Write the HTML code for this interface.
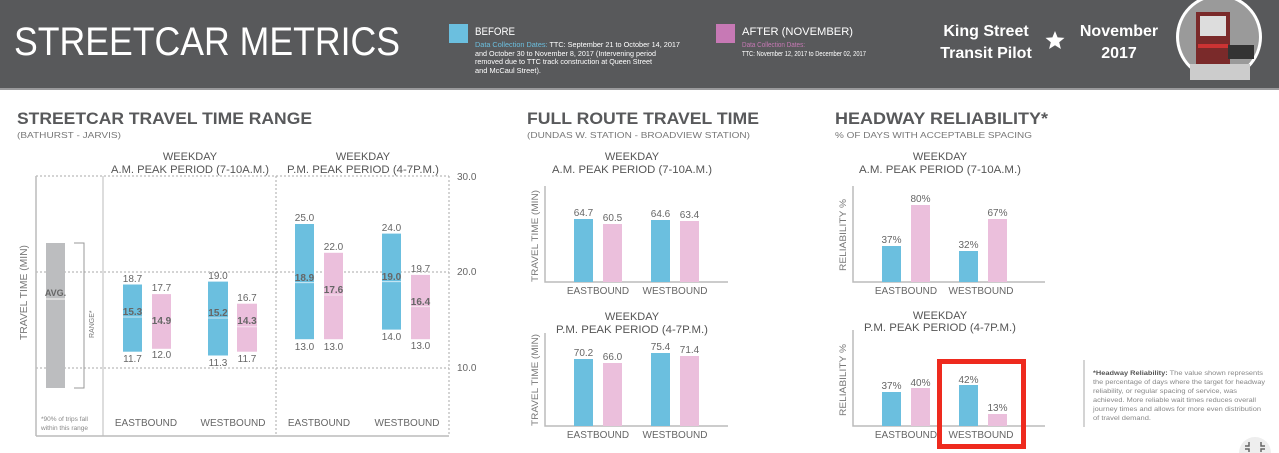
<!DOCTYPE html>
<html><head><meta charset="utf-8"><style>
html,body{margin:0;padding:0;background:#fff;}
svg{display:block;font-family:"Liberation Sans",sans-serif;}
</style></head><body>
<svg width="1279" height="453" viewBox="0 0 1279 453" xmlns="http://www.w3.org/2000/svg">
<defs><clipPath id="hc"><rect x="0" y="0" width="1279" height="88"/></clipPath></defs>
<!-- header -->
<rect x="0" y="0" width="1279" height="88" fill="#58595b"/>
<rect x="0" y="88" width="1279" height="2" fill="#9a9a9c"/>
<text x="14" y="55" fill="#fff" font-size="40" textLength="386" lengthAdjust="spacingAndGlyphs">STREETCAR METRICS</text>
<rect x="449" y="24" width="19" height="19" fill="#6bbfdf"/>
<text x="475" y="35" fill="#fff" font-size="11" textLength="40" lengthAdjust="spacingAndGlyphs">BEFORE</text>
<g font-size="7" fill="#fff">
<text x="475" y="47" textLength="205" lengthAdjust="spacingAndGlyphs"><tspan fill="#6bbfdf">Data Collection Dates:</tspan> TTC: September 21 to October 14, 2017</text>
<text x="475" y="56" textLength="181" lengthAdjust="spacingAndGlyphs">and October 30 to November 8, 2017 (Intervening period</text>
<text x="475" y="64" textLength="177" lengthAdjust="spacingAndGlyphs">removed due to TTC track construction at Queen Street</text>
<text x="475" y="73" textLength="66" lengthAdjust="spacingAndGlyphs">and McCaul Street).</text>
</g>
<rect x="716" y="24" width="19" height="19" fill="#c779b5"/>
<text x="742" y="35" fill="#fff" font-size="11" textLength="111" lengthAdjust="spacingAndGlyphs">AFTER (NOVEMBER)</text>
<text x="742" y="47" fill="#c779b5" font-size="7" textLength="63" lengthAdjust="spacingAndGlyphs">Data Collection Dates:</text>
<text x="742" y="56" fill="#fff" font-size="7" textLength="124" lengthAdjust="spacingAndGlyphs">TTC: November 12, 2017 to December 02, 2017</text>
<g fill="#fff" font-size="16" font-weight="bold" text-anchor="middle">
<text x="986" y="36">King Street</text>
<text x="986" y="58">Transit Pilot</text>
<text x="1119" y="36">November</text>
<text x="1119" y="58">2017</text>
</g>
<polygon points="1055,31 1057.6,37.4 1064.5,37.9 1059.2,42.3 1060.9,49 1055,45.3 1049.1,49 1050.8,42.3 1045.5,37.9 1052.4,37.4" fill="#fff"/>
<g clip-path="url(#hc)">
<circle cx="1219" cy="37" r="43" fill="#fff"/>
<circle cx="1219" cy="37" r="40" fill="#9a9a9a"/>
<rect x="1196" y="12" width="34" height="52" fill="#7a2a2a"/>
<rect x="1200" y="16" width="26" height="20" fill="#ddd"/>
<rect x="1198" y="44" width="30" height="4" fill="#c33"/>
<rect x="1228" y="45" width="26" height="14" fill="#333"/>
<rect x="1190" y="64" width="60" height="16" fill="#ccc"/>
</g>

<!-- left section -->
<text x="17" y="124" fill="#58595b" font-size="17" font-weight="bold" textLength="295" lengthAdjust="spacingAndGlyphs">STREETCAR TRAVEL TIME RANGE</text>
<text x="17" y="138" fill="#777" font-size="8" textLength="104" lengthAdjust="spacingAndGlyphs">(BATHURST - JARVIS)</text>
<g fill="#555" font-size="11" text-anchor="middle">
<text x="190" y="160">WEEKDAY</text>
<text x="190" y="173" textLength="158" lengthAdjust="spacingAndGlyphs">A.M. PEAK PERIOD (7-10A.M.)</text>
<text x="363" y="160">WEEKDAY</text>
<text x="363" y="173" textLength="152" lengthAdjust="spacingAndGlyphs">P.M. PEAK PERIOD (4-7P.M.)</text>
</g>
<g stroke="#aaa" stroke-width="1" stroke-dasharray="2,2">
<line x1="36" y1="176" x2="449" y2="176"/>
<line x1="36" y1="272" x2="449" y2="272"/>
<line x1="36" y1="368" x2="449" y2="368"/>
<line x1="276" y1="176" x2="276" y2="436"/>
<line x1="449" y1="176" x2="449" y2="436"/>
</g>
<line x1="36" y1="176" x2="36" y2="436" stroke="#bbb" stroke-width="1.5"/>
<line x1="36" y1="436" x2="449" y2="436" stroke="#bbb" stroke-width="1.5"/>
<line x1="103" y1="176" x2="103" y2="436" stroke="#bbb" stroke-width="1"/>
<g fill="#666" font-size="10">
<text x="457" y="180">30.0</text><text x="457" y="275">20.0</text><text x="457" y="371">10.0</text>
</g>
<text transform="translate(27,340) rotate(-90)" fill="#777" font-size="10" textLength="95" lengthAdjust="spacingAndGlyphs">TRAVEL TIME (MIN)</text>
<rect x="46" y="243" width="19" height="145" fill="#bcbdbf"/>
<line x1="46" y1="299" x2="65" y2="299" stroke="#e6e6e6" stroke-width="1.5"/>
<text x="55.5" y="296" fill="#666" font-size="9" font-weight="bold" text-anchor="middle">AVG.</text>
<path d="M74,243 H84 V388 H74" fill="none" stroke="#999" stroke-width="1"/>
<text transform="translate(94,338) rotate(-90)" fill="#777" font-size="7">RANGE*</text>
<text x="41" y="421" fill="#888" font-size="6.5">*90% of trips fall</text>
<text x="41" y="430" fill="#888" font-size="6.5">within this range</text>

<g font-size="10" fill="#666" text-anchor="middle">
<rect x="123" y="284.5" width="19" height="67.2" fill="#6bbfdf"/><line x1="123" x2="142" y1="317" y2="317" stroke="#cfe9f4"/>
<text x="132.5" y="282">18.7</text><text x="132.5" y="362">11.7</text><text x="132.5" y="315" font-weight="bold">15.3</text>
<rect x="152" y="294.1" width="19" height="54.7" fill="#ebbfdc"/><line x1="152" x2="171" y1="321" y2="321" stroke="#f7e4f0"/>
<text x="161.5" y="291">17.7</text><text x="161.5" y="358">12.0</text><text x="161.5" y="324" font-weight="bold">14.9</text>
<rect x="208" y="281.6" width="20" height="73.9" fill="#6bbfdf"/><line x1="208" x2="228" y1="318" y2="318" stroke="#cfe9f4"/>
<text x="218" y="279">19.0</text><text x="218" y="366">11.3</text><text x="218" y="316" font-weight="bold">15.2</text>
<rect x="237" y="303.7" width="20" height="48" fill="#ebbfdc"/><line x1="237" x2="257" y1="326.7" y2="326.7" stroke="#f7e4f0"/>
<text x="247" y="301">16.7</text><text x="247" y="362">11.7</text><text x="247" y="324" font-weight="bold">14.3</text>
<rect x="295" y="224" width="19" height="115.2" fill="#6bbfdf"/><line x1="295" x2="314" y1="282.6" y2="282.6" stroke="#cfe9f4"/>
<text x="304.5" y="221">25.0</text><text x="304.5" y="350">13.0</text><text x="304.5" y="281" font-weight="bold">18.9</text>
<rect x="324" y="252.8" width="19" height="86.4" fill="#ebbfdc"/><line x1="324" x2="343" y1="295" y2="295" stroke="#f7e4f0"/>
<text x="333.5" y="250">22.0</text><text x="333.5" y="350">13.0</text><text x="333.5" y="293" font-weight="bold">17.6</text>
<rect x="382" y="233.6" width="19" height="96" fill="#6bbfdf"/><line x1="382" x2="401" y1="281.6" y2="281.6" stroke="#cfe9f4"/>
<text x="391.5" y="231">24.0</text><text x="391.5" y="340">14.0</text><text x="391.5" y="280" font-weight="bold">19.0</text>
<rect x="411" y="274.9" width="19" height="64.3" fill="#ebbfdc"/><line x1="411" x2="430" y1="306.6" y2="306.6" stroke="#f7e4f0"/>
<text x="420.5" y="272">19.7</text><text x="420.5" y="349">13.0</text><text x="420.5" y="305" font-weight="bold">16.4</text>
</g>
<g font-size="10" fill="#666" text-anchor="middle">
<text x="146" y="426">EASTBOUND</text><text x="233" y="426">WESTBOUND</text>
<text x="319" y="426">EASTBOUND</text><text x="407" y="426">WESTBOUND</text>
</g>

<!-- middle section -->
<text x="527" y="124" fill="#58595b" font-size="17" font-weight="bold" textLength="232" lengthAdjust="spacingAndGlyphs">FULL ROUTE TRAVEL TIME</text>
<text x="527" y="138" fill="#777" font-size="8" textLength="223" lengthAdjust="spacingAndGlyphs">(DUNDAS W. STATION - BROADVIEW STATION)</text>
<g fill="#555" font-size="11" text-anchor="middle">
<text x="632" y="160">WEEKDAY</text>
<text x="632" y="173" textLength="160" lengthAdjust="spacingAndGlyphs">A.M. PEAK PERIOD (7-10A.M.)</text>
<text x="632" y="320">WEEKDAY</text>
<text x="632" y="333" textLength="152" lengthAdjust="spacingAndGlyphs">P.M. PEAK PERIOD (4-7P.M.)</text>
</g>
<g stroke="#bbb" stroke-width="1.5" fill="none">
<path d="M545,186 V282 H728"/><path d="M545,333 V426 H728"/>
<path d="M853,186 V282 H1045"/><path d="M853,330 V426 H1045"/>
</g>
<text transform="translate(538,282) rotate(-90)" fill="#777" font-size="9.5" textLength="92" lengthAdjust="spacingAndGlyphs">TRAVEL TIME (MIN)</text>
<text transform="translate(538,426) rotate(-90)" fill="#777" font-size="9.5" textLength="92" lengthAdjust="spacingAndGlyphs">TRAVEL TIME (MIN)</text>
<g font-size="10" fill="#666" text-anchor="middle">
<rect x="574" y="219" width="19" height="63" fill="#6bbfdf"/><text x="583.5" y="216">64.7</text>
<rect x="603" y="224" width="19" height="58" fill="#ebbfdc"/><text x="612.5" y="221">60.5</text>
<rect x="651" y="220" width="19" height="62" fill="#6bbfdf"/><text x="660.5" y="217">64.6</text>
<rect x="680" y="221" width="19" height="61" fill="#ebbfdc"/><text x="689.5" y="218">63.4</text>
<text x="598" y="294">EASTBOUND</text><text x="675" y="294">WESTBOUND</text>
<rect x="574" y="359" width="19" height="67" fill="#6bbfdf"/><text x="583.5" y="356">70.2</text>
<rect x="603" y="363" width="19" height="63" fill="#ebbfdc"/><text x="612.5" y="360">66.0</text>
<rect x="651" y="353" width="19" height="73" fill="#6bbfdf"/><text x="660.5" y="350">75.4</text>
<rect x="680" y="356" width="19" height="70" fill="#ebbfdc"/><text x="689.5" y="353">71.4</text>
<text x="598" y="438">EASTBOUND</text><text x="675" y="438">WESTBOUND</text>
</g>

<!-- right section -->
<text x="835" y="124" fill="#58595b" font-size="17" font-weight="bold" textLength="213" lengthAdjust="spacingAndGlyphs">HEADWAY RELIABILITY*</text>
<text x="835" y="138" fill="#777" font-size="8.5" textLength="197" lengthAdjust="spacingAndGlyphs">% OF DAYS WITH ACCEPTABLE SPACING</text>
<g fill="#555" font-size="11" text-anchor="middle">
<text x="940" y="160">WEEKDAY</text>
<text x="940" y="173" textLength="162" lengthAdjust="spacingAndGlyphs">A.M. PEAK PERIOD (7-10A.M.)</text>
<text x="940" y="319">WEEKDAY</text>
<text x="940" y="331" textLength="152" lengthAdjust="spacingAndGlyphs">P.M. PEAK PERIOD (4-7P.M.)</text>
</g>
<text transform="translate(846,271) rotate(-90)" fill="#777" font-size="9.5" textLength="72" lengthAdjust="spacingAndGlyphs">RELIABILITY %</text>
<text transform="translate(846,416) rotate(-90)" fill="#777" font-size="9.5" textLength="72" lengthAdjust="spacingAndGlyphs">RELIABILITY %</text>
<g font-size="10" fill="#666" text-anchor="middle">
<rect x="882" y="246" width="19" height="36" fill="#6bbfdf"/><text x="891.5" y="243">37%</text>
<rect x="911" y="205" width="19" height="77" fill="#ebbfdc"/><text x="920.5" y="202">80%</text>
<rect x="959" y="251" width="19" height="31" fill="#6bbfdf"/><text x="968.5" y="248">32%</text>
<rect x="988" y="219" width="19" height="63" fill="#ebbfdc"/><text x="997.5" y="216">67%</text>
<text x="906" y="294">EASTBOUND</text><text x="981" y="294">WESTBOUND</text>
<rect x="882" y="392" width="19" height="34" fill="#6bbfdf"/><text x="891.5" y="389">37%</text>
<rect x="911" y="388" width="19" height="38" fill="#ebbfdc"/><text x="920.5" y="386">40%</text>
<rect x="959" y="385" width="19" height="41" fill="#6bbfdf"/><text x="968.5" y="383">42%</text>
<rect x="988" y="414" width="19" height="12" fill="#ebbfdc"/><text x="997.5" y="411">13%</text>
<text x="906" y="438">EASTBOUND</text><text x="981" y="438">WESTBOUND</text>
</g>
<rect x="939.5" y="361.5" width="84" height="85" fill="none" stroke="#ee2a1e" stroke-width="5"/>
<line x1="1084" y1="360" x2="1084" y2="427" stroke="#aaa" stroke-width="1"/>
<g font-size="6.5" fill="#888">
<text x="1093" y="375" textLength="170" lengthAdjust="spacingAndGlyphs"><tspan font-weight="bold" fill="#555">*Headway Reliability:</tspan> The value shown represents</text>
<text x="1093" y="384" textLength="172" lengthAdjust="spacingAndGlyphs">the percentage of days where the target for headway</text>
<text x="1093" y="393" textLength="144" lengthAdjust="spacingAndGlyphs">reliability, or regular spacing of service, was</text>
<text x="1093" y="402" textLength="163" lengthAdjust="spacingAndGlyphs">achieved. More reliable wait times reduces overall</text>
<text x="1093" y="411" textLength="168" lengthAdjust="spacingAndGlyphs">journey times and allows for more even distribution</text>
<text x="1093" y="420" textLength="58" lengthAdjust="spacingAndGlyphs">of travel demand.</text>
</g>
<circle cx="1255" cy="453" r="16" fill="#eeeeee"/>
<path d="M1249,442 v4 h-4 M1261,442 v4 h4 M1249,452 v-3 h-4 M1261,452 v-3 h4" stroke="#666" stroke-width="1.5" fill="none"/>
</svg>
</body></html>
